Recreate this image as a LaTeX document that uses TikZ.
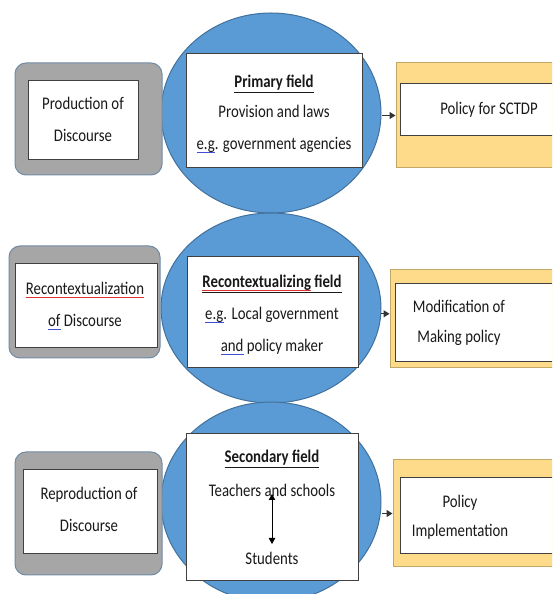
\documentclass[tikz,border=0pt]{standalone}
\usepackage{fontspec}
\setmainfont{Carlito}
\usepackage{graphicx}
\usetikzlibrary{arrows.meta,shapes.geometric}
\definecolor{ebl}{HTML}{5B9BD5}
\definecolor{ebd}{HTML}{41719C}
\definecolor{gfill}{HTML}{A6A6A6}
\definecolor{gline}{HTML}{6F8BA6}
\definecolor{yfill}{HTML}{FDDB8B}
\definecolor{yline}{HTML}{C2A867}
\definecolor{wred}{HTML}{E03030}
\definecolor{wblue}{HTML}{4050D0}
\newsavebox\wvbox
\newcommand\wv[2]{\sbox\wvbox{#2}\rlap{\color{#1}\lower2.4pt\hbox to\wd\wvbox{\xleaders\hbox{\rule{0.8pt}{0.5pt}\raise0.6pt\hbox{\rule{0.8pt}{0.5pt}}}\hfill}}\usebox\wvbox}
\newcommand\sy[1]{\scalebox{1}[1.2]{#1}}
\begin{document}
\begin{tikzpicture}[x=1pt,y=1pt,
  field/.style={ellipse, draw=ebd, fill=ebl, line width=1pt, inner sep=0, minimum width=220, minimum height=#1},
  gbox/.style={rectangle, rounded corners=11pt, draw=gline, fill=gfill, line width=1pt, inner sep=0},
  ybox/.style={rectangle, draw=yline, fill=yfill, line width=1pt, inner sep=0},
  wbox/.style={rectangle, draw=black!75, fill=white, line width=0.8pt, inner sep=0},
  tx/.style={anchor=base, inner sep=0, font=\fontsize{14.8}{18}\selectfont, text=black!90},
  arr/.style={draw=black!80, line width=1pt, -{Triangle[length=6pt,width=7pt]}},
  darr/.style={draw=black, line width=1pt, {Triangle[length=6pt,width=6.5pt]}-{Triangle[length=6pt,width=6.5pt]}}
]
\useasboundingbox (0,0) rectangle (552,594);
\fill[white] (0,0) rectangle (552,594);
\clip (0,0) rectangle (552,594);

% ellipses
\node[field=200] (e1) at (271,481) {};
\node[field=190] (e2) at (271,286) {};
\node[field=200] (e3) at (271,92) {};

% left boxes
\node[gbox, minimum width=147, minimum height=112] (l1o) at (88.5,475) {};
\node[wbox, minimum width=110, minimum height=79] (l1i) at (83,474.5) {};
\node[gbox, minimum width=151, minimum height=112] (l2o) at (84.5,292) {};
\node[wbox, minimum width=142, minimum height=84] (l2i) at (86,289) {};
\node[gbox, minimum width=147, minimum height=123] (l3o) at (88.5,80.5) {};
\node[wbox, minimum width=134, minimum height=84] (l3i) at (90,83) {};

% middle boxes
\node[wbox, minimum width=176, minimum height=114] (m1) at (274,484) {};
\node[wbox, minimum width=171, minimum height=111] (m2) at (272.5,282.5) {};
\node[wbox, minimum width=172, minimum height=147] (m3) at (272,87.5) {};

% right boxes
\node[ybox, minimum width=174, minimum height=105] (r1o) at (483,478.5) {};
\node[wbox, minimum width=170, minimum height=52] (r1i) at (485,485) {};
\node[ybox, minimum width=180, minimum height=98] (r2o) at (480,275) {};
\node[wbox, minimum width=175, minimum height=78] (r2i) at (482.5,272) {};
\node[ybox, minimum width=177, minimum height=107] (r3o) at (481.5,80.5) {};
\node[wbox, minimum width=170, minimum height=76] (r3i) at (485,79) {};

% texts row 1
\node[tx] (t11) at (83,484) {\sy{Production of}};
\node[tx] (t12) at (83,452) {\sy{Discourse}};
\node[tx] (t13) at (274,506) {\sy{\textbf{\underline{Primary field}}}};
\node[tx] (t14) at (274,476) {\sy{Provision and laws}};
\node[tx] (t15) at (274,444) {\sy{\wv{wblue}{e.g}. government agencies}};
\node[tx] (t16) at (489,479) {\sy{Policy for SCTDP}};

% texts row 2
\node[tx] (t21) at (85,299) {\sy{\wv{wred}{Recontextualization}}};
\node[tx] (t22) at (85,267) {\sy{\wv{wblue}{of} Discourse}};
\node[tx] (t23) at (272,306) {\sy{\textbf{\underline{\wv{wred}{Recontextualizing} field}}}};
\node[tx] (t24) at (272,274) {\sy{\wv{wblue}{e.g}. Local government}};
\node[tx] (t25) at (272,242) {\sy{\wv{wblue}{and} policy maker}};
\node[tx] (t26) at (459,281) {\sy{Modification of}};
\node[tx] (t27) at (459,251) {\sy{Making policy}};

% texts row 3
\node[tx] (t31) at (89,94) {\sy{Reproduction of}};
\node[tx] (t32) at (89,62) {\sy{Discourse}};
\node[tx] (t33) at (272,131) {\sy{\textbf{\underline{Secondary field}}}};
\node[tx] (t34) at (272,97) {\sy{Teachers and schools}};
\node[tx] (t35) at (272,29) {\sy{Students}};
\node[tx] (t36) at (460,86) {\sy{Policy}};
\node[tx] (t37) at (460,57) {\sy{Implementation}};

% connectors
\draw[arr] (e1.east |- r1o.west) -- (r1o.west);
\draw[arr] (e2.-3) -- (e2.-3 -| r2o.west);
\draw[arr] (e3.east |- r3o.west) -- (r3o.west);
\draw[darr] ([yshift=3pt]t34.base) -- ([yshift=21pt]t35.base);
\end{tikzpicture}
\end{document}
